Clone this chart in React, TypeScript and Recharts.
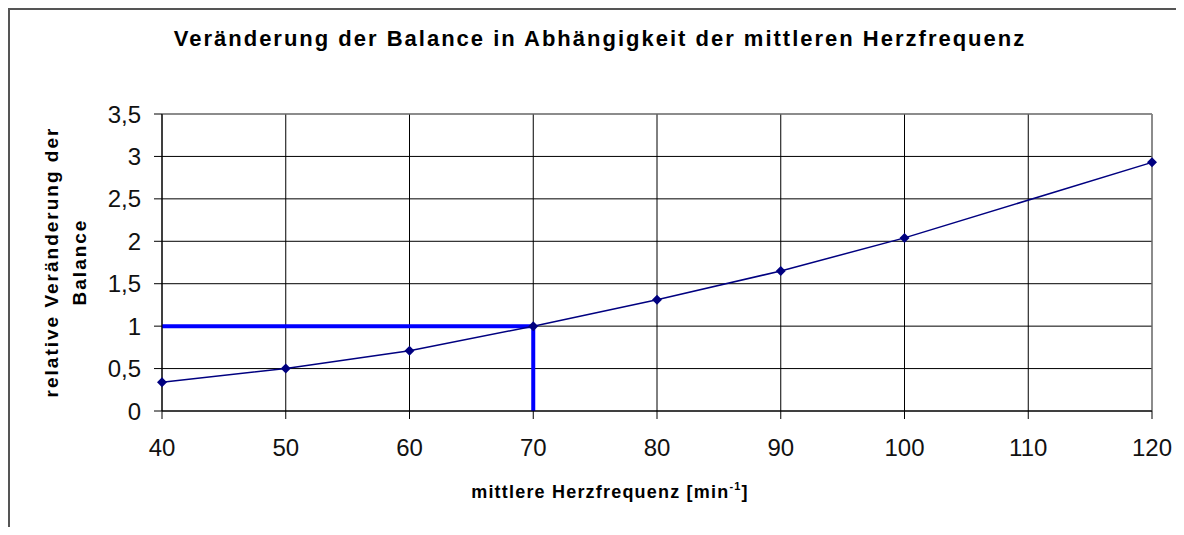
import React from 'react';
import { LineChart, Line, XAxis, YAxis, CartesianGrid, ReferenceLine } from 'recharts';

const heartRate = [40, 50, 60, 70, 80, 90, 100, 120];
const balanceChange = [0.34, 0.5, 0.71, 1.0, 1.31, 1.65, 2.04, 2.93];
const xTicks = [40, 50, 60, 70, 80, 90, 100, 110, 120];
const yTicks = [0, 0.5, 1, 1.5, 2, 2.5, 3, 3.5];
const markerX = [40, 70, 70];
const markerY = [1, 1, 0];

const seriesData = heartRate.map((x, i) => ({ x, y: balanceChange[i] }));
const markerData = markerX.map((x, i) => ({ x, y: markerY[i] }));

const FONT = '"Liberation Sans", Arial, sans-serif';

const Diamond = (props: any) => {
  const { cx, cy, index } = props;
  if (cx == null || cy == null) return <g key={index} />;
  const r = 5;
  return (
    <path
      key={index}
      d={`M${cx},${cy - r}L${cx + r},${cy}L${cx},${cy + r}L${cx - r},${cy}Z`}
      fill="#000080"
    />
  );
};

const fmt = (v: number) => String(v).replace('.', ',');

export default function App() {
  const W = 1168;
  const H = 519;
  return (
    <div style={{ position: 'relative', width: W, height: H, fontFamily: FONT }}>
      <style>{'html,body{overflow:hidden}'}</style>
      <div
        style={{
          position: 'absolute',
          left: 0,
          top: 0,
          width: W + 8,
          height: H + 8,
          borderTop: '2px solid #555',
          borderLeft: '2px solid #555',
          boxSizing: 'border-box',
        }}
      />
      <LineChart
        width={W}
        height={H}
        margin={{ top: 106, right: 24, bottom: 76, left: 94 }}
        style={{ position: 'absolute', left: 0, top: 0 }}
      >
        <CartesianGrid stroke="#000" strokeWidth={1} />
        <XAxis
          type="number"
          dataKey="x"
          domain={[40, 120]}
          ticks={xTicks}
          height={40}
          tickSize={8}
          tickMargin={20}
          stroke="#000"
          tick={{ fill: '#111', fontSize: 24, fontFamily: FONT }}
          interval={0}
        />
        <YAxis
          type="number"
          domain={[0, 3.5]}
          ticks={yTicks}
          width={60}
          tickSize={8}
          tickMargin={13}
          stroke="#000"
          tickFormatter={fmt}
          tick={{ fill: '#111', fontSize: 24, fontFamily: FONT }}
          interval={0}
        />
        <ReferenceLine y={3.5} stroke="#999" strokeWidth={1} />
        <ReferenceLine x={120} stroke="#999" strokeWidth={1} />
        <Line
          data={markerData}
          dataKey="y"
          type="linear"
          stroke="#0000FF"
          strokeWidth={4}
          dot={false}
          activeDot={false}
          isAnimationActive={false}
        />
        <Line
          data={seriesData}
          dataKey="y"
          type="linear"
          stroke="#000080"
          strokeWidth={1.5}
          dot={Diamond}
          activeDot={false}
          isAnimationActive={false}
        />
      </LineChart>
      <div
        style={{
          position: 'absolute',
          left: 8,
          width: 1168,
          top: 18,
          textAlign: 'center',
          fontWeight: 'bold',
          fontSize: 22,
          letterSpacing: 2,
          color: '#000',
          whiteSpace: 'nowrap',
        }}
      >
        Veränderung der Balance in Abhängigkeit der mittleren Herzfrequenz
      </div>
      <div
        style={{
          position: 'absolute',
          left: 602 - 300,
          width: 600,
          top: 474,
          textAlign: 'center',
          fontWeight: 'bold',
          fontSize: 18,
          letterSpacing: 1.2,
          color: '#000',
          whiteSpace: 'nowrap',
        }}
      >
        mittlere Herzfrequenz [min
        <span style={{ fontSize: 11, position: 'relative', top: -8, lineHeight: 0 }}>-1</span>]
      </div>
      <div
        style={{
          position: 'absolute',
          left: 58 - 200,
          top: 254 - 28,
          width: 400,
          height: 56,
          transform: 'rotate(-90deg)',
          transformOrigin: '50% 50%',
          textAlign: 'center',
          fontWeight: 'bold',
          fontSize: 19,
          letterSpacing: 2,
          lineHeight: '28px',
          color: '#000',
          whiteSpace: 'nowrap',
        }}
      >
        relative Veränderung der
        <br />
        Balance
      </div>
    </div>
  );
}
